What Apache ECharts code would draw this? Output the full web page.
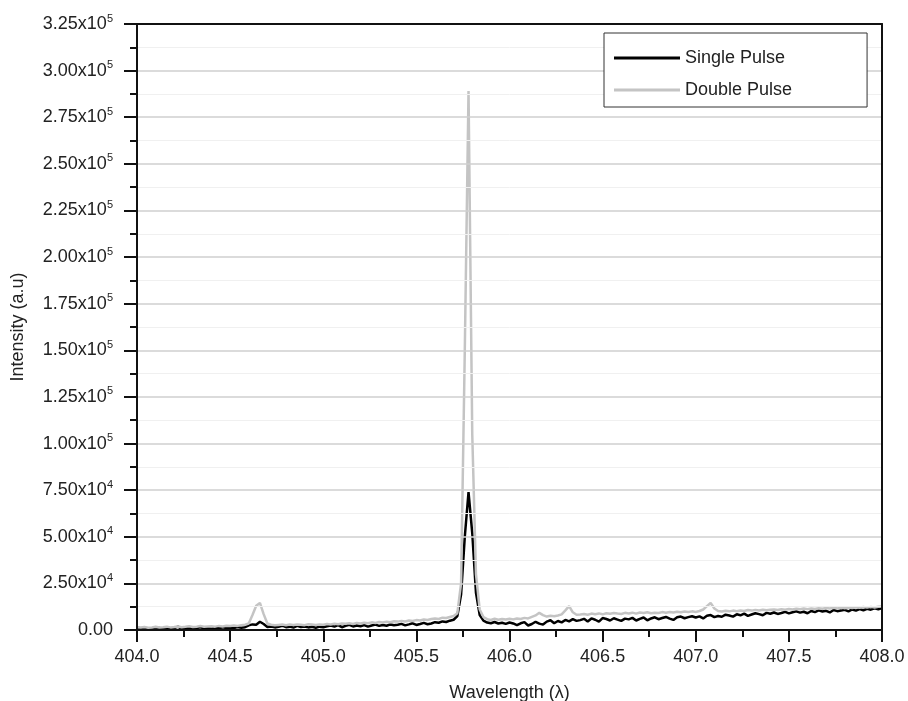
<!DOCTYPE html>
<html>
<head>
<meta charset="utf-8">
<title>Single vs Double Pulse Spectrum</title>
<script src="https://cdn.jsdelivr.net/npm/echarts@6/dist/echarts.min.js"></script>
<style>
  html, body { margin: 0; padding: 0; background: #ffffff; }
  #chart { width: 908px; height: 701px; }
</style>
</head>
<body>
<div id="chart"></div>
<script>
// Wavelength samples (nm)
const wavelengths = [
  404.00, 404.02, 404.04, 404.06, 404.08, 404.10, 404.12, 404.14, 404.16, 404.18,
  404.20, 404.22, 404.24, 404.26, 404.28, 404.30, 404.32, 404.34, 404.36, 404.38,
  404.40, 404.42, 404.44, 404.46, 404.48, 404.50, 404.52, 404.54, 404.56, 404.58,
  404.60, 404.62, 404.64, 404.66, 404.68, 404.70, 404.72, 404.74, 404.76, 404.78,
  404.80, 404.82, 404.84, 404.86, 404.88, 404.90, 404.92, 404.94, 404.96, 404.98,
  405.00, 405.02, 405.04, 405.06, 405.08, 405.10, 405.12, 405.14, 405.16, 405.18,
  405.20, 405.22, 405.24, 405.26, 405.28, 405.30, 405.32, 405.34, 405.36, 405.38,
  405.40, 405.42, 405.44, 405.46, 405.48, 405.50, 405.52, 405.54, 405.56, 405.58,
  405.60, 405.62, 405.64, 405.66, 405.68, 405.70, 405.72, 405.74, 405.76, 405.78,
  405.80, 405.82, 405.84, 405.86, 405.88, 405.90, 405.92, 405.94, 405.96, 405.98,
  406.00, 406.02, 406.04, 406.06, 406.08, 406.10, 406.12, 406.14, 406.16, 406.18,
  406.20, 406.22, 406.24, 406.26, 406.28, 406.30, 406.32, 406.34, 406.36, 406.38,
  406.40, 406.42, 406.44, 406.46, 406.48, 406.50, 406.52, 406.54, 406.56, 406.58,
  406.60, 406.62, 406.64, 406.66, 406.68, 406.70, 406.72, 406.74, 406.76, 406.78,
  406.80, 406.82, 406.84, 406.86, 406.88, 406.90, 406.92, 406.94, 406.96, 406.98,
  407.00, 407.02, 407.04, 407.06, 407.08, 407.10, 407.12, 407.14, 407.16, 407.18,
  407.20, 407.22, 407.24, 407.26, 407.28, 407.30, 407.32, 407.34, 407.36, 407.38,
  407.40, 407.42, 407.44, 407.46, 407.48, 407.50, 407.52, 407.54, 407.56, 407.58,
  407.60, 407.62, 407.64, 407.66, 407.68, 407.70, 407.72, 407.74, 407.76, 407.78,
  407.80, 407.82, 407.84, 407.86, 407.88, 407.90, 407.92, 407.94, 407.96, 407.98,
  408.00
];

// Single pulse intensity (a.u.)
const singlePulse = [
  1200, 900, 700, 1000, 600, 800, 1100, 500, 900, 700,
  1000, 1800, 600, 900, 1200, 700, 1000, 1500, 900, 1100,
  800, 1200, 900, 1400, 1000, 1300, 1100, 1600, 1200, 1500,
  2500, 3000, 2800, 4400, 3200, 1600, 1900, 1400, 1700, 2300,
  1500, 1800, 1300, 2200, 1600, 1900, 1400, 1700, 1200, 1800,
  1500, 2000, 2400, 1800, 2600, 1500, 2200, 2800, 1900, 2400,
  2000, 2600, 1800, 2400, 2900, 2200, 2700, 2300, 3000, 2600,
  2800, 3300, 2500, 3000, 3600, 2700, 3200, 3800, 3100, 3500,
  4200, 3900, 4600, 4300, 5000, 5500, 7500, 19000, 50000, 74000,
  52000, 20000, 8000, 5000, 4000, 3600, 4300, 3500, 3900, 3300,
  4000, 3500, 2600, 3600, 4200, 2400, 3200, 4400, 3400, 2900,
  4500, 5200, 3600, 4800, 4100, 5400, 4600, 5800, 4900, 5300,
  6000, 4600, 6200, 5500, 4500, 6400, 5900, 5100, 6300, 5600,
  4900, 6100, 5700, 6500, 5100, 6000, 6700, 5200, 6200, 6800,
  5800, 6400, 7000, 6100, 5400, 6800, 7200, 6300, 6900, 7400,
  6700, 7300, 6200, 7600, 8000, 6900, 7500, 7100, 8200, 7800,
  7200, 8400, 7900, 8800, 7600, 8300, 9000, 8500, 7900, 9200,
  8700, 9400, 8600, 9100, 9700, 8900, 9500, 10000, 9300, 9800,
  9000, 10200, 9600, 10500, 9900, 10300, 9400, 10700, 10100, 10400,
  10800, 10000, 11000, 10400, 11200, 10600, 11400, 10900, 11600, 11100,
  11800
];

// Double pulse intensity (a.u.)
const doublePulse = [
  1500, 1300, 1600, 1200, 1400, 1700, 1300, 1500, 1800, 1400,
  1600, 1900, 1500, 1700, 2000, 1600, 1800, 2100, 1700, 1900,
  2000, 1800, 2200, 1900, 2300, 2100, 2400, 2200, 2600, 2800,
  3500, 8000, 13000, 14500, 8500, 3500, 2800, 2500, 2700, 2900,
  2600, 2900, 2700, 3000, 2800, 2600, 3100, 2900, 2700, 3000,
  2800, 3200, 3000, 3400, 3100, 3500, 3300, 3600, 3200, 3800,
  3500, 3900, 3600, 4100, 3800, 4300, 4000, 4400, 4200, 4700,
  4500, 4900, 4600, 5100, 4800, 5300, 5100, 5600, 5400, 5900,
  6200, 5900, 6600, 6400, 7000, 7500, 9000, 25000, 150000, 289000,
  105000, 30000, 11000, 7000, 5800, 5400, 6000, 5500, 5900, 5600,
  6000, 5700, 6200, 5900, 6500, 6200, 7000, 7800, 9200, 8000,
  7200, 7600, 7400, 7800, 8400, 10500, 12800, 9500, 8200, 8300,
  8600, 8200, 8800, 8500, 8900, 8400, 9000, 8700, 9100, 8800,
  8600, 9200, 8900, 9300, 8800, 9400, 9100, 9500, 9000, 9300,
  9100, 9600, 9300, 9700, 9400, 9800, 9500, 9900, 9600, 10000,
  9700, 10200, 11000, 12800, 14500, 11500, 10200, 9900, 10300, 10000,
  10400, 10100, 10500, 10200, 10700, 10400, 10800, 10500, 10900, 10600,
  10800, 11000, 10700, 11100, 10900, 11300, 11000, 11400, 11100, 11500,
  11200, 11500, 11300, 11700, 11400, 11800, 11500, 11900, 11600, 12000,
  11700, 12100, 11800, 12200, 11900, 12300, 12000, 12400, 12100, 12500,
  12600
];

const seriesNames = ['Single Pulse', 'Double Pulse'];

const FONT = '"Liberation Sans", Arial, Helvetica, sans-serif';
const X_MIN = 404, X_MAX = 408;
const Y_MIN = 0, Y_MAX = 325000;

// "2.50x10^4" style tick labels with a raised exponent
function sciLabel(v) {
  if (v === 0) return '{m|0.00}';
  const exp = Math.floor(Math.log10(v) + 1e-9);
  const mant = (v / Math.pow(10, exp)).toFixed(2);
  return '{m|' + mant + 'x10}{e|' + exp + '}';
}

// Plain frame axis for the top / right edges of the plot box
function frameAxis(position, min, max) {
  return {
    type: 'value',
    position: position,
    min: min,
    max: max,
    z: 6,
    axisLine: { show: true, onZero: false, lineStyle: { color: '#111111', width: 2 } },
    axisTick: { show: false },
    axisLabel: { show: false },
    splitLine: { show: false }
  };
}

const chart = echarts.init(document.getElementById('chart'), null, { renderer: 'canvas' });

chart.setOption({
  backgroundColor: '#ffffff',
  animation: false,
  textStyle: { fontFamily: FONT },
  grid: {
    left: 137, right: 26, top: 24, bottom: 71,
    show: false,
    containLabel: false,
    outerBoundsMode: 'none'
  },
  legend: {
    data: seriesNames,
    orient: 'vertical',
    left: 604,
    top: 33,
    z: 10,
    padding: [15, 75, 7, 10],
    itemGap: 12,
    itemWidth: 66,
    itemHeight: 3,
    icon: 'rect',
    borderColor: '#333333',
    borderWidth: 1,
    backgroundColor: '#ffffff',
    textStyle: { fontFamily: FONT, fontSize: 18, color: '#222222', lineHeight: 20 }
  },
  xAxis: [
    {
      type: 'value',
      position: 'bottom',
      min: X_MIN,
      max: X_MAX,
      interval: 0.5,
      z: 5,
      name: 'Wavelength (\u03BB)',
      nameLocation: 'middle',
      nameGap: 54,
      nameTextStyle: { fontFamily: FONT, fontSize: 18, color: '#222222' },
      axisLine: { show: true, onZero: false, lineStyle: { color: '#111111', width: 2 } },
      axisTick: { show: true, inside: false, length: 12, lineStyle: { color: '#111111', width: 2 } },
      minorTick: { show: true, splitNumber: 2, length: 7, lineStyle: { color: '#111111', width: 2 } },
      axisLabel: {
        margin: 18,
        fontFamily: FONT, fontSize: 18, color: '#222222',
        formatter: v => v.toFixed(1)
      },
      splitLine: { show: false }
    },
    frameAxis('top', X_MIN, X_MAX)
  ],
  yAxis: [
    {
      type: 'value',
      position: 'left',
      min: Y_MIN,
      max: Y_MAX,
      interval: 25000,
      z: 5,
      name: 'Intensity (a.u)',
      nameLocation: 'middle',
      nameGap: 110,
      nameTextStyle: { fontFamily: FONT, fontSize: 18, color: '#222222' },
      axisLine: { show: true, onZero: false, lineStyle: { color: '#111111', width: 2 } },
      axisTick: { show: true, inside: false, length: 13, lineStyle: { color: '#111111', width: 2 } },
      minorTick: { show: true, splitNumber: 2, length: 7, lineStyle: { color: '#111111', width: 2 } },
      axisLabel: {
        margin: 24,
        formatter: sciLabel,
        rich: {
          m: { fontFamily: FONT, fontSize: 18, color: '#222222', lineHeight: 22 },
          e: { fontFamily: FONT, fontSize: 11, color: '#222222', verticalAlign: 'top', lineHeight: 12 }
        }
      },
      splitLine: { show: true, lineStyle: { color: '#cfcfcf', width: 1.5 } },
      minorSplitLine: { show: true, lineStyle: { color: '#f0f0f0', width: 1 } }
    },
    frameAxis('right', Y_MIN, Y_MAX)
  ],
  series: [
    {
      name: seriesNames[0],
      type: 'line',
      xAxisIndex: 0,
      yAxisIndex: 0,
      data: wavelengths.map((w, i) => [w, singlePulse[i]]),
      showSymbol: false,
      symbol: 'none',
      lineStyle: { color: '#000000', width: 2.5 },
      itemStyle: { color: '#000000' },
      z: 2
    },
    {
      name: seriesNames[1],
      type: 'line',
      xAxisIndex: 0,
      yAxisIndex: 0,
      data: wavelengths.map((w, i) => [w, doublePulse[i]]),
      showSymbol: false,
      symbol: 'none',
      lineStyle: { color: '#c4c4c4', width: 2.5 },
      itemStyle: { color: '#c4c4c4' },
      z: 3
    }
  ]
});
</script>
</body>
</html>
